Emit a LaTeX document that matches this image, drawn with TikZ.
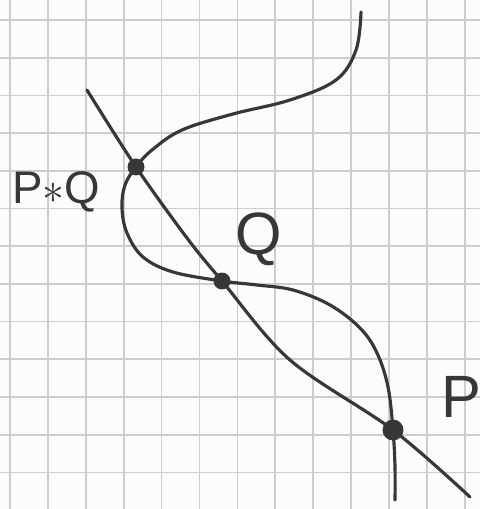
\documentclass[tikz,border=0pt]{standalone}
\usepackage{fontspec}
\setsansfont{Liberation Sans}
\usepackage{tikz}
\usetikzlibrary{positioning}
\definecolor{myink}{RGB}{55,55,55}
\definecolor{mygrid}{RGB}{205,205,205}
\definecolor{mypaper}{RGB}{252,252,250}
\tikzset{
  gridline/.style={draw=mygrid, line width=1pt},
  curveline/.style={draw=myink, line width=1.8pt, line cap=round, line join=round},
  dot/.style={circle, fill=myink, inner sep=0pt, minimum size=0.34cm},
  bigdot/.style={circle, fill=myink, inner sep=0pt, minimum size=0.42cm},
  ptlabel/.style={text=myink, font=\sffamily\fontsize{34}{34}\selectfont},
  smalllabel/.style={text=myink, font=\sffamily\fontsize{26}{26}\selectfont}
}

\begin{document}
\begin{tikzpicture}[x=0.02cm, y=-0.02cm]
  \useasboundingbox[fill=mypaper] (0,0) rectangle (480,509);

  % squared paper
  \foreach \i in {0,...,12}
    \draw[gridline] (10+37.9*\i, 0) -- (10+37.9*\i, 509);
  \foreach \j in {0,...,12}
    \draw[gridline] (0, 20+37.7*\j) -- (480, 20+37.7*\j);

  % the three points
  \node[dot] (pq) at (136,167) {};
  \node[dot] (q) at (222,281) {};
  \node[bigdot] (p) at (393,430) {};

  % the line
  \draw[curveline] plot[smooth, tension=0.55] coordinates {(87,90) (pq) (187,238) (q) (290,360) (p) (470,497)};

  % the curve
  \draw[curveline] plot[smooth, tension=0.6] coordinates {(361,12) (356,50) (336,80) (290,100) (233,114) (182,130) (152,150) (pq) (125,185) (122,208) (127,233) (143,257) (173,272) (q) (257,285) (293,290) (330,305) (360,328) (377,353) (388,387) (p) (395,467) (395,500)};

  \node[smalllabel, left=0.42cm of pq, yshift=-0.5cm] (pqlabel) {P\textbf{$*$}Q};
  \node[ptlabel] (qlabel) at (259,239) {Q};
  \node[ptlabel] (plabel) at (461,397) {P};
\end{tikzpicture}
\end{document}
